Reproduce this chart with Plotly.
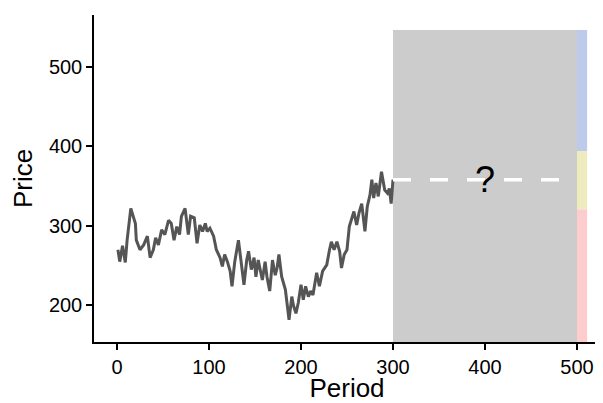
import plotly.graph_objects as go

# price path (period, price)
period = [1, 3, 6, 9, 11, 15, 20, 21, 25, 29, 33, 36, 39.5, 42, 45, 48.5, 52, 56, 59, 62,
          65, 68, 70, 74, 77.5, 80, 84, 87, 90, 93, 96, 98, 101, 105, 108, 112, 114.5, 117, 120, 123,
          125, 128, 132, 134, 138, 141, 143, 146, 149, 151, 153.5, 156, 158, 161, 163, 166, 169, 172, 174, 176,
          179, 183, 184.5, 187, 190, 192, 194.5, 197, 200, 202.5, 205, 208, 210.5, 213, 217, 220, 223.5, 228, 231, 233,
          236, 239, 242, 244, 247, 250, 252.5, 255, 257.5, 260.5, 263, 266, 269.5, 272, 275, 277, 279, 281.5, 284, 287.5,
          291, 294, 296, 298, 300]
price = [270, 255, 275, 254, 282, 322, 303, 282, 270, 276, 287, 260, 270, 285, 276, 295, 289, 307, 303, 282,
         299, 289, 312, 322, 289, 312, 310, 278, 301, 293, 303, 293, 297, 287, 270, 260, 249, 264, 255, 243,
         224, 255, 282, 261, 226, 257, 268, 245, 260, 236, 257, 243, 232, 255, 236, 218, 257, 238, 247, 264,
         236, 220, 203, 182, 211, 199, 190, 203, 226, 207, 224, 211, 218, 213, 241, 224, 243, 251, 270, 280,
         270, 280, 268, 247, 264, 270, 299, 310, 318, 301, 316, 328, 293, 324, 339, 358, 335, 354, 337, 368,
         345, 341, 347, 328, 358]

# forecast window and outcome bands
window = [300, 500]
band_x = [500, 511]
band_lo = [394, 321, 154]
band_hi = [546, 394, 321]
band_colors = ["#bccbeb", "#eeecbe", "#fdcccc"]
last_price = 358
dash_end = 483

fig = go.Figure()

fig.add_shape(type="rect", x0=window[0], x1=window[1], y0=154, y1=546,
              fillcolor="#cccccc", line_width=0, layer="below")
for lo, hi, col in zip(band_lo, band_hi, band_colors):
    fig.add_shape(type="rect", x0=band_x[0], x1=band_x[1], y0=lo, y1=hi,
                  fillcolor=col, line_width=0, layer="below")

fig.add_trace(go.Scatter(x=period, y=price, mode="lines",
                         line=dict(color="#555555", width=3), showlegend=False))

fig.add_trace(go.Scatter(x=[window[0], dash_end], y=[last_price, last_price], mode="lines",
                         line=dict(color="white", width=3.5, dash="18px,19px"), showlegend=False))

fig.add_annotation(x=400, y=last_price, text="?", showarrow=False,
                   font=dict(size=36, color="black"))

# the page body adds an 8px offset, so the figure is a bit smaller than the window
fig.update_layout(
    width=595, height=395,
    margin=dict(l=86, r=3, t=7, b=61),
    paper_bgcolor="white", plot_bgcolor="white",
    font=dict(family="Liberation Sans, Arial, sans-serif", color="black", size=20),
)

fig.update_xaxes(range=[-25, 525], tickvals=[0, 100, 200, 300, 400, 500],
                 showgrid=False, zeroline=False, showline=True, linecolor="black", linewidth=1.5,
                 ticks="outside", ticklen=6, tickwidth=1.5, tickcolor="black",
                 title=dict(text="Period", font=dict(size=26), standoff=5))
fig.update_yaxes(range=[154, 565], tickvals=[200, 300, 400, 500],
                 showgrid=False, zeroline=False, showline=True, linecolor="black", linewidth=1.5,
                 ticks="outside", ticklen=6, tickwidth=1.5, tickcolor="black",
                 title=dict(text="Price", font=dict(size=26), standoff=9))

fig.write_html("out.html")
